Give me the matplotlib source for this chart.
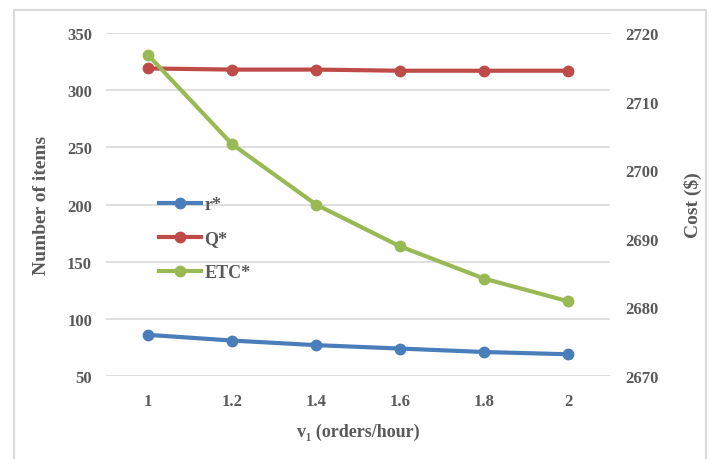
import matplotlib.pyplot as plt
from matplotlib.patches import Rectangle

# sensitivity of the policy to the arrival rate
v1 = ['1', '1.2', '1.4', '1.6', '1.8', '2']
r_star = [86, 81, 77, 74, 71, 69]
q_star = [319, 318, 318, 317, 317, 317]
etc_star = [2716.8, 2703.8, 2695.0, 2688.9, 2684.2, 2680.9]

grey = '#595959'
plt.rcParams['font.family'] = ['Liberation Serif', 'DejaVu Serif']
plt.rcParams['font.weight'] = 'bold'
plt.rcParams['axes.labelweight'] = 'bold'

fig = plt.figure(figsize=(7.1, 4.6), dpi=100)
W, H = 710, 460
ax = fig.add_axes([106 / W, 1 - 377 / H, (610 - 106) / W, (377 - 34) / H])
ax2 = ax.twinx()

# outer chart border
fig.patches.append(Rectangle((13.5 / W, -0.05), (706 - 13.5) / W, 1 - 10.5 / H + 0.05,
                             transform=fig.transFigure, fill=False,
                             edgecolor='#d9d9d9', linewidth=1.5))

x = range(len(v1))
lw, ms = 3.0, 7.5
l1, = ax.plot(x, r_star, color='#4a7ebb', lw=lw, marker='o', ms=ms, label='r*')
l2, = ax.plot(x, q_star, color='#be4b48', lw=lw, marker='o', ms=ms, label='Q*')
l3, = ax2.plot(x, etc_star, color='#98b954', lw=lw, marker='o', ms=ms, label='ETC*')

ax.set_xlim(-0.5, 5.5)
ax.set_ylim(50, 350)
ax.set_yticks(range(50, 351, 50))
ax2.set_ylim(2670, 2720)
ax2.set_yticks(range(2670, 2721, 10))
ax.set_xticks(list(x))
ax.set_xticklabels(v1)

ax.grid(axis='y', color='#d9d9d9', linewidth=1.2)
ax.set_axisbelow(True)
for a in (ax, ax2):
    for s in a.spines.values():
        s.set_visible(False)
    a.tick_params(length=0, labelsize=12, labelcolor=grey)
ax.tick_params(axis='y', pad=10)
ax.tick_params(axis='x', pad=12)
ax2.tick_params(axis='y', pad=11)

ax.set_ylabel('Number of items', fontsize=14, color=grey, labelpad=12)
ax2.set_ylabel('Cost ($)', fontsize=14, color=grey, rotation=90, labelpad=18)
ax.set_xlabel('v\u2081 (orders/hour)', fontsize=13, color=grey, labelpad=10)

leg = ax.legend(handles=[l1, l2, l3], loc='upper left',
                bbox_to_anchor=(152 / W, 1 - 190 / H), bbox_transform=fig.transFigure,
                frameon=False, fontsize=13, handlelength=2.3, handletextpad=0.2,
                labelspacing=0.94, borderaxespad=0)
for t in leg.get_texts():
    t.set_color(grey)

fig.savefig('out.png', dpi=100)
